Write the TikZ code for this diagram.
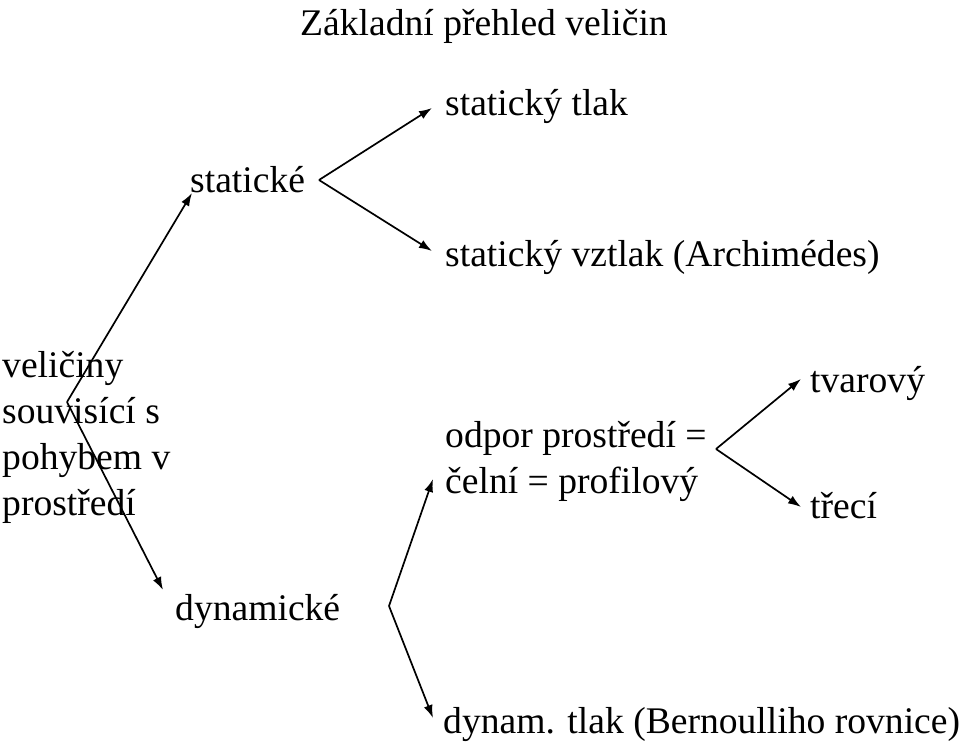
\documentclass[tikz,border=0pt]{standalone}
\usepackage{fontspec}
\setmainfont{Liberation Serif}
\usetikzlibrary{arrows.meta,calc}
\tikzset{
  txt/.style={anchor=base west, inner sep=0pt, font=\fontsize{37.6}{46}\selectfont},
  forkarrow/.style={-{Latex[length=13pt,width=9pt]}, line width=1.7pt}
}

\begin{document}
\begin{tikzpicture}[x=1pt,y=-1pt]
\useasboundingbox (0,0) rectangle (960,745);

\node[txt] (title) at (300,35) {Základní přehled veličin};

% base anchor of a multi-line node is its last line
\node[txt, align=left] (veliciny) at (2,515) {veličiny\\souvisící s\\pohybem v\\prostředí};
\node[txt] (staticke) at (190,192) {statické};
\node[txt] (dynamicke) at (175,620) {dynamické};

\node[txt] (tlak) at (445,115) {statický tlak};
\node[txt] (vztlak) at (445,266) {statický vztlak (Archimédes)};

\node[txt, align=left] (odpor) at (445,493) {odpor prostředí =\\čelní = profilový};
\node[txt] (bernoulli) at (443,733) {dynam. tlak (Bernoulliho rovnice)};

\node[txt] (tvarovy) at (810,392) {tvarový};
\node[txt] (treci) at (810,518) {třecí};

% fork points
\coordinate (f1) at (67,402);
\coordinate (f2) at (319,180);
\coordinate (f3) at (716,449);
\coordinate (f4) at (389,606);

\draw[forkarrow] (f1) -- ($(staticke.base west)+(2,1)$);
\draw[forkarrow] (f1) -- ($(dynamicke.base west)+(-12,-30)$);

\draw[forkarrow] (f2) -- ($(tlak.base west)+(-13,-7)$);
\draw[forkarrow] (f2) -- ($(vztlak.base west)+(-13,-15)$);

\draw[forkarrow] (f3) -- ($(tvarovy.base west)+(-9,-13)$);
\draw[forkarrow] (f3) -- ($(treci.base west)+(-9,-11)$);

\draw[forkarrow] (f4) -- ($(odpor.base west)+(-12,-14)$);
\draw[forkarrow] (f4) -- ($(bernoulli.base west)+(-10,-15)$);
\end{tikzpicture}
\end{document}
